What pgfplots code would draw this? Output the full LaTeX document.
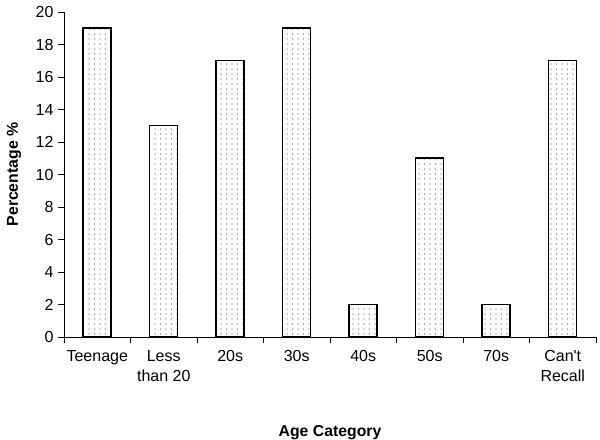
\documentclass[border=0pt]{standalone}
\usepackage{fontspec}
\setmainfont{Liberation Sans}[Ligatures=TeXOff]
\usepackage{pgfplots}
\pgfplotsset{compat=1.18}
\usetikzlibrary{patterns}
\pgfdeclarepatternformonly{sparsedots}{\pgfqpoint{-1bp}{-1bp}}{\pgfqpoint{6bp}{6bp}}{\pgfqpoint{5.5bp}{5bp}}{%
  \pgfpathcircle{\pgfqpoint{1bp}{1bp}}{0.6bp}\pgfusepath{fill}}
\begin{document}
\begin{tikzpicture}
\begin{axis}[
  scale only axis,
  width=532bp, height=325bp,
  at={(0,0)}, anchor=south west,
  xmin=-0.5, xmax=7.5,
  ymin=0, ymax=20,
  ytick={0,2,...,20},
  xtick={0,...,7},
  xticklabels={Teenage,Less\\than 20,20s,30s,40s,50s,70s,Can\textquotesingle t\\Recall},
  xticklabel style={align=center, anchor=north, yshift=-4bp},
  minor xtick={-0.5,0.5,...,7.5},
  major x tick style={draw=none},
  minor tick length=6bp,
  major tick length=6bp,
  tick align=outside,
  tick style={black, line width=0.8bp},
  axis x line*=bottom,
  axis y line*=left,
  axis line style={black, line width=0.8bp},
  /pgf/number format/assume math mode=true,
  ticklabel style={font=\fontsize{16bp}{20bp}\selectfont},
  yticklabel style={xshift=-1bp},
  xlabel={\textbf{Age Category}},
  ylabel={\textbf{Percentage \%}},
  label style={font=\fontsize{15.8bp}{18bp}\selectfont},
  xlabel style={at={(axis description cs:0.5,0)}, anchor=center, yshift=-96bp},
  ylabel style={at={(axis description cs:-0.094,0.5)}, anchor=center, rotate=0},
  clip=false,
]
\addplot[ybar, bar width=28bp, draw=black, line width=1.5bp, fill=white,
  postaction={pattern=sparsedots, pattern color=gray!70!black}]
  coordinates {(0,19) (1,13) (2,17) (3,19) (4,2) (5,11) (6,2) (7,17)};
\end{axis}
\pgfresetboundingbox
\path[use as bounding box] (-64bp,-103bp) rectangle (536bp,337bp);
\end{tikzpicture}
\end{document}
